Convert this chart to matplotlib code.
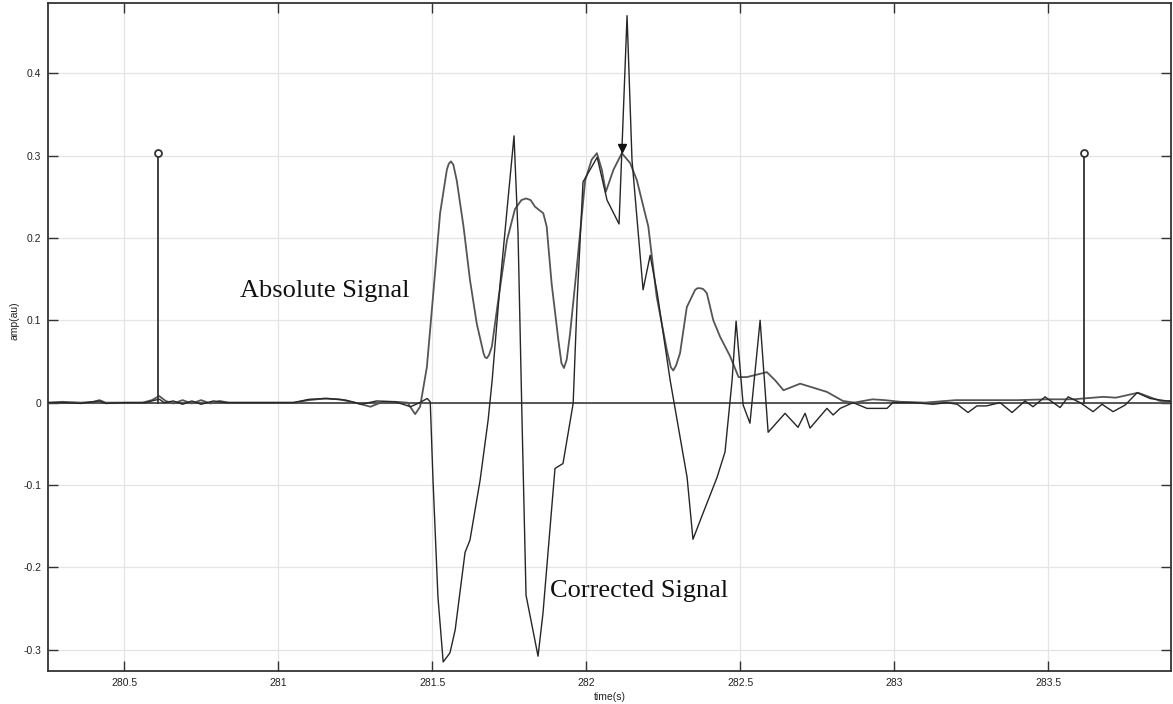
import matplotlib
matplotlib.use("Agg")
import matplotlib.pyplot as plt

# Absolute (smooth) signal
t_abs = [280.253, 280.30, 280.36, 280.40, 280.42, 280.44, 280.50, 280.56, 280.59, 280.614,
         280.635, 280.66, 280.69, 280.72, 280.75, 280.78, 280.81, 280.84, 281.05, 281.10,
         281.15, 281.20, 281.25, 281.30, 281.34, 281.38, 281.42, 281.445, 281.461, 281.483,
         281.504, 281.526, 281.548, 281.554, 281.561, 281.569, 281.580, 281.602, 281.623, 281.645,
         281.667, 281.672, 281.678, 281.685, 281.694, 281.715, 281.743, 281.769, 281.79, 281.805,
         281.82, 281.834, 281.861, 281.872, 281.888, 281.910, 281.92, 281.928, 281.937, 281.948,
         281.970, 281.997, 282.018, 282.035, 282.051, 282.064, 282.089, 282.116, 282.143, 282.165,
         282.186, 282.202, 282.229, 282.262, 282.275, 282.283, 282.292, 282.305, 282.327, 282.354,
         282.362, 282.370, 282.38, 282.392, 282.413, 282.435, 282.468, 282.495, 282.522, 282.565,
         282.587, 282.614, 282.641, 282.668, 282.695, 282.73, 282.782, 282.834, 282.87, 282.93,
         282.97, 283.02, 283.10, 283.20, 283.30, 283.40, 283.50, 283.581, 283.679, 283.72,
         283.792, 283.864, 283.90]
amp_abs = [0.000, 0.001, 0.000, 0.001, 0.003, 0.000, 0.000, 0.000, 0.003, 0.008,
           0.002, -0.001, 0.003, -0.001, 0.003, -0.001, 0.002, 0.000, 0.000, 0.003,
           0.005, 0.004, 0.000, -0.005, 0.001, 0.001, 0.000, -0.014, -0.005, 0.043,
           0.133, 0.230, 0.283, 0.290, 0.293, 0.289, 0.270, 0.214, 0.149, 0.096,
           0.060, 0.055, 0.054, 0.058, 0.068, 0.125, 0.197, 0.235, 0.246, 0.248,
           0.246, 0.238, 0.230, 0.214, 0.145, 0.076, 0.048, 0.042, 0.052, 0.084,
           0.165, 0.270, 0.295, 0.303, 0.283, 0.256, 0.283, 0.303, 0.291, 0.270,
           0.238, 0.214, 0.129, 0.064, 0.043, 0.039, 0.045, 0.060, 0.116, 0.137,
           0.139, 0.139, 0.138, 0.133, 0.100, 0.080, 0.056, 0.031, 0.031, 0.035,
           0.037, 0.027, 0.015, 0.019, 0.023, 0.019, 0.013, 0.002, 0.000, 0.004,
           0.003, 0.001, 0.000, 0.003, 0.003, 0.003, 0.004, 0.004, 0.007, 0.006,
           0.012, 0.002, 0.002]

# Corrected (sign-restored) signal
t_cor = [280.253, 280.30, 280.36, 280.40, 280.42, 280.44, 280.50, 280.57, 280.60, 280.615,
         280.63, 280.66, 280.69, 280.72, 280.75, 280.79, 280.83, 281.05, 281.10, 281.16,
         281.22, 281.27, 281.32, 281.38, 281.43, 281.46, 281.484, 281.494, 281.503, 281.519,
         281.536, 281.558, 281.575, 281.607, 281.623, 281.656, 281.682, 281.695, 281.721, 281.744,
         281.766, 281.779, 281.792, 281.805, 281.844, 281.860, 281.899, 281.925, 281.958, 281.971,
         281.990, 282.036, 282.068, 282.107, 282.133, 282.149, 282.185, 282.208, 282.231, 282.273,
         282.328, 282.347, 282.380, 282.425, 282.451, 282.474, 282.487, 282.510, 282.532, 282.565,
         282.591, 282.646, 282.688, 282.711, 282.727, 282.782, 282.802, 282.825, 282.867, 282.912,
         282.977, 282.996, 283.062, 283.127, 283.172, 283.205, 283.240, 283.269, 283.30, 283.344,
         283.383, 283.425, 283.451, 283.490, 283.539, 283.565, 283.604, 283.646, 283.675, 283.711,
         283.750, 283.789, 283.831, 283.886, 283.90]
amp_cor = [0.000, 0.000, -0.001, 0.001, 0.002, -0.001, 0.000, 0.000, 0.003, 0.004,
           0.000, 0.002, -0.002, 0.002, -0.002, 0.002, 0.000, 0.000, 0.004, 0.005,
           0.003, -0.002, 0.002, 0.001, -0.005, 0.000, 0.005, 0.001, -0.094, -0.236,
           -0.315, -0.304, -0.276, -0.182, -0.167, -0.094, -0.021, 0.027, 0.145, 0.237,
           0.324, 0.206, -0.021, -0.234, -0.308, -0.256, -0.080, -0.074, -0.001, 0.125,
           0.268, 0.298, 0.246, 0.217, 0.470, 0.295, 0.137, 0.179, 0.133, 0.027,
           -0.091, -0.166, -0.134, -0.091, -0.060, 0.027, 0.099, -0.003, -0.025, 0.100,
           -0.036, -0.013, -0.030, -0.013, -0.031, -0.007, -0.015, -0.007, 0.000, -0.007,
           -0.007, 0.000, 0.000, -0.002, 0.000, -0.002, -0.012, -0.004, -0.004, 0.000,
           -0.012, 0.002, -0.005, 0.007, -0.006, 0.007, 0.000, -0.011, -0.002, -0.011,
           -0.003, 0.012, 0.005, 0.002, 0.002]

# Window markers and detected peak
stem_t = [280.61, 283.617]
stem_amp = [0.303, 0.303]
peak_t = [282.116]
peak_amp = [0.309]

xticks = [280.5, 281.0, 281.5, 282.0, 282.5, 283.0, 283.5]
xtick_labels = ["280.5", "281", "281.5", "282", "282.5", "283", "283.5"]
yticks = [-0.3, -0.2, -0.1, 0.0, 0.1, 0.2, 0.3, 0.4]
ytick_labels = ["-0.3", "-0.2", "-0.1", "0", "0.1", "0.2", "0.3", "0.4"]

fig = plt.figure(figsize=(11.73, 7.04), dpi=100)
ax = fig.add_axes([48 / 1173, 1 - 671 / 704, 1123 / 1173, 668 / 704])

ax.grid(True, color="#e4e4e4", linewidth=0.9, zorder=0)
ax.set_axisbelow(True)

ax.axhline(0, color="#4a4a4a", linewidth=1.3, zorder=2)
ax.plot(t_abs, amp_abs, color="#555555", linewidth=1.3, zorder=3)
ax.plot(t_cor, amp_cor, color="#262626", linewidth=1.0, zorder=4)

for st, sa in zip(stem_t, stem_amp):
    ax.plot([st, st], [0, sa], color="#333333", linewidth=1.3, zorder=5)
ax.plot(stem_t, stem_amp, linestyle="none", marker="o", markersize=5,
        markerfacecolor="white", markeredgecolor="#333333", markeredgewidth=1.3, zorder=6)
ax.plot(peak_t, peak_amp, linestyle="none", marker="v", markersize=6,
        color="#111111", zorder=6)

ax.set_xlim(280.253, 283.899)
ax.set_ylim(-0.326, 0.4854)
ax.set_xticks(xticks)
ax.set_xticklabels(xtick_labels)
ax.set_yticks(yticks)
ax.set_yticklabels(ytick_labels)

ax.tick_params(direction="in", length=7, width=1.0, top=True, right=True,
               labelsize=7.5, labelcolor="#222222", color="#333333", pad=5)
for lab in ax.get_xticklabels() + ax.get_yticklabels():
    lab.set_family("Liberation Sans")
for sp in ax.spines.values():
    sp.set_color("#333333")
    sp.set_linewidth(1.3)

ax.set_xlabel("time(s)", fontsize=7.5, family="Liberation Sans", color="#222222", labelpad=3)
ax.set_ylabel("amp(au)", fontsize=7.5, family="Liberation Sans", color="#222222")
ax.yaxis.set_label_coords(-0.0255, 0.525)

ax.text(280.877, 0.128, "Absolute Signal", family="Liberation Serif", fontsize=19,
        ha="left", va="baseline", color="#111111")
ax.text(281.883, -0.236, "Corrected Signal", family="Liberation Serif", fontsize=19,
        ha="left", va="baseline", color="#111111")

fig.savefig("out.png", dpi=100)
